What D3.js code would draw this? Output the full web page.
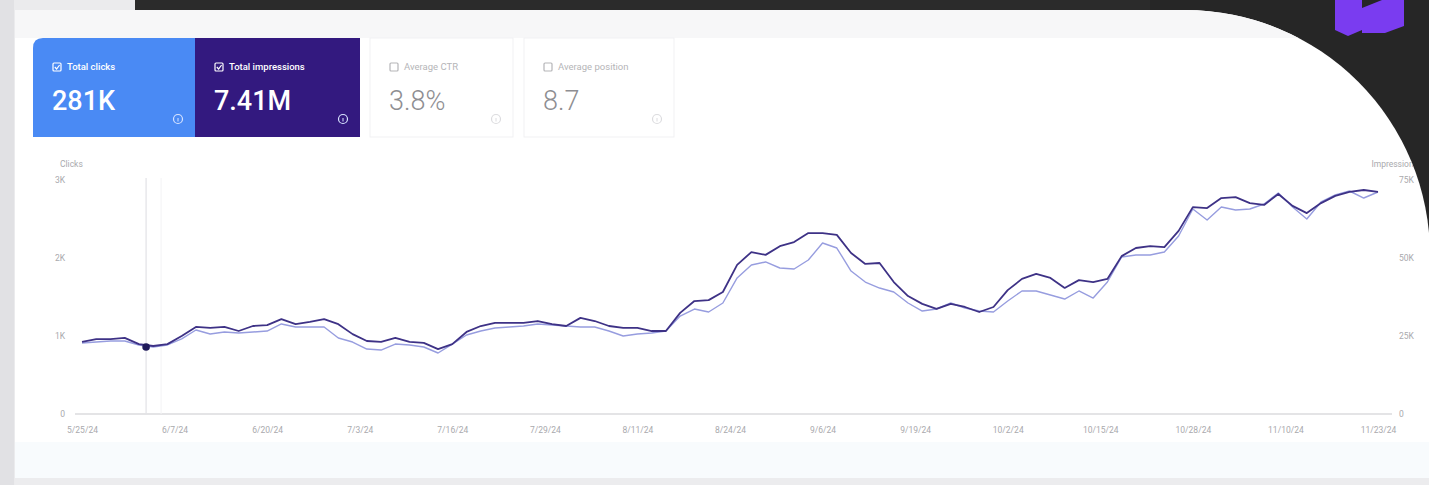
<!DOCTYPE html>
<html>
<head>
<meta charset="utf-8">
<script src="https://cdn.jsdelivr.net/npm/d3@7"></script>
<style>
  body { margin: 0; background: #ebebed; }
  svg { display: block; font-family: Roboto, "Open Sans", sans-serif; }
</style>
</head>
<body>
<div id="chart"></div>
<script>
// ---- data (one point every 2 days from 5/25/24) ----
const startDate = "2024-05-25";
const clicks = [910, 923, 936, 936, 885, 859, 885, 962, 1077, 1026,
  1051, 1038, 1051, 1064, 1154, 1115, 1115, 1115, 974, 923,
  833, 820, 897, 885, 859, 782, 897, 1013, 1064, 1103,
  1115, 1128, 1154, 1141, 1128, 1115, 1115, 1064, 1000, 1026,
  1038, 1064, 1256, 1346, 1308, 1423, 1744, 1910, 1949, 1872,
  1859, 1974, 2192, 2128, 1833, 1692, 1615, 1564, 1423, 1320,
  1346, 1423, 1359, 1320, 1308, 1449, 1577, 1577, 1526, 1474,
  1577, 1487, 1692, 2013, 2038, 2038, 2077, 2282, 2628, 2487,
  2654, 2615, 2628, 2692, 2833, 2654, 2500, 2718, 2808, 2859,
  2769, 2846];
const impressions = [23100, 24000, 24000, 24400, 22400, 21800, 22400, 25000, 27900, 27600,
  27900, 26600, 28200, 28500, 30400, 28800, 29500, 30400, 28800, 25600,
  23400, 23100, 24400, 23100, 22800, 20800, 22400, 26300, 28200, 29200,
  29200, 29200, 29800, 28800, 28200, 30800, 29800, 28200, 27600, 27600,
  26600, 26600, 32400, 36200, 36500, 39100, 47800, 51900, 51000, 53800,
  55100, 58000, 58000, 57400, 51600, 48100, 48400, 42300, 37800, 35300,
  33700, 35300, 34300, 32700, 34300, 39700, 43300, 44900, 43600, 40400,
  42900, 42300, 43300, 50600, 53200, 53800, 53500, 58700, 66300, 66000,
  69200, 69500, 67600, 67000, 70500, 66700, 64400, 67600, 69900, 71200,
  71800, 71200];
const xTickDates = ["2024-05-25", "2024-06-07", "2024-06-20", "2024-07-03", "2024-07-16",
  "2024-07-29", "2024-08-11", "2024-08-24", "2024-09-06", "2024-09-19",
  "2024-10-02", "2024-10-15", "2024-10-28", "2024-11-10", "2024-11-23"];
const clickTicks = [0, 1000, 2000, 3000];
const clickTickLabels = ["0", "1K", "2K", "3K"];
const imprTicks = [0, 25000, 50000, 75000];
const imprTickLabels = ["0", "25K", "50K", "75K"];
const hoverDate = "2024-06-03";

const metrics = [
  { label: "Total clicks", value: "281K", on: true, fill: "#4a8af4" },
  { label: "Total impressions", value: "7.41M", on: true, fill: "#33197f" },
  { label: "Average CTR", value: "3.8%", on: false, fill: "#ffffff" },
  { label: "Average position", value: "8.7", on: false, fill: "#ffffff" }
];

// ---- layout ----
const W = 1429, H = 485;
const parse = d3.timeParse("%Y-%m-%d");
const t0 = parse(startDate);
const rows = clicks.map((c, i) => ({ date: d3.timeDay.offset(t0, i * 2), clicks: c, impr: impressions[i] }));

const svg = d3.select("#chart").append("svg").attr("width", W).attr("height", H);

svg.append("rect").attr("width", W).attr("height", H).attr("fill", "#ebebed");
svg.append("rect").attr("x", 0).attr("y", 0).attr("width", 14).attr("height", H).attr("fill", "#e1e1e4");
// dark header strip + top-right corner
svg.append("rect").attr("x", 135).attr("y", 0).attr("width", W - 135).attr("height", 10).attr("fill", "#2b2b2b");
svg.append("rect").attr("x", 1150).attr("y", 0).attr("width", W - 1150).attr("height", 300).attr("fill", "#262626");

const cardPath = "M15,10 H1185 A245,245 0 0 1 1430,255 V478 H15 Z";
svg.append("clipPath").attr("id", "card").append("path").attr("d", cardPath);
svg.append("path").attr("d", cardPath).attr("fill", "#ffffff");
const cardG = svg.append("g").attr("clip-path", "url(#card)");
cardG.append("rect").attr("x", 15).attr("y", 10).attr("width", W).attr("height", 28).attr("fill", "#f7f7f8");
cardG.append("rect").attr("x", 15).attr("y", 442).attr("width", W).attr("height", 36).attr("fill", "#f8fbfd");
svg.append("rect").attr("x", 15).attr("y", 478).attr("width", W).attr("height", 7).attr("fill", "#ececee");

// logo
svg.append("path").attr("d", "M1335,0 H1362 V30 L1348,36 L1335,30 Z").attr("fill", "#7a3cf0");
svg.append("path").attr("d", "M1362,8 L1382,0 H1404 V26 L1385,33 L1362,33 Z").attr("fill", "#7a3cf0");

// ---- metric tiles ----
const tileX = [33, 195, 370, 524];
const tileW = [162, 165, 143, 150];
metrics.forEach((m, i) => {
  const g = svg.append("g").attr("transform", `translate(${tileX[i]},38)`);
  if (i === 0) {
    g.append("path").attr("d", `M0,10 Q0,0 10,0 H${tileW[i]} V99 H0 Z`).attr("fill", m.fill);
  } else {
    g.append("rect").attr("width", tileW[i]).attr("height", 99).attr("fill", m.fill)
      .attr("stroke", m.on ? "none" : "#f1f1f3");
  }
  const fg = m.on ? "#ffffff" : "#b5b5b8";
  g.append("rect").attr("x", 20).attr("y", 25).attr("width", 8).attr("height", 8).attr("rx", 1)
    .attr("fill", "none").attr("stroke", fg).attr("stroke-width", 1.2);
  if (m.on) {
    g.append("path").attr("d", "M21.8,29 L23.6,31 L26.6,27").attr("fill", "none")
      .attr("stroke", fg).attr("stroke-width", 1.2);
  }
  g.append("text").attr("x", 34).attr("y", 32).attr("font-size", 9.5)
    .attr("font-weight", m.on ? 500 : 400).attr("fill", fg).text(m.label);
  g.append("text").attr("x", 19).attr("y", 72).attr("font-size", 27)
    .attr("font-weight", m.on ? 500 : 300).attr("fill", m.on ? "#ffffff" : "#8e8e92").text(m.value);
  const ic = g.append("g").attr("transform", `translate(${tileW[i] - 17},81)`);
  ic.append("circle").attr("r", 4.5).attr("fill", "none").attr("stroke", m.on ? "#d8e4ff" : "#dcdcdf").attr("stroke-width", 1.2);
  ic.append("line").attr("x1", 0).attr("x2", 0).attr("y1", -1).attr("y2", 2.5).attr("stroke", m.on ? "#d8e4ff" : "#dcdcdf");
});

// ---- chart ----
const x = d3.scaleTime().domain([t0, parse("2024-11-23")]).range([82, 1378]);
const yC = d3.scaleLinear().domain([0, 3000]).range([414, 180]);
const yI = d3.scaleLinear().domain([0, 75000]).range([414, 180]);

const chart = svg.append("g").attr("clip-path", "url(#card)");

// baseline
chart.append("line").attr("x1", 75).attr("x2", 1392).attr("y1", yC(0)).attr("y2", yC(0))
  .attr("stroke", "#e4e4e6").attr("stroke-width", 2);

// axes
const axL = d3.axisLeft(yC).tickValues(clickTicks).tickSize(0)
  .tickFormat((d, i) => clickTickLabels[i]);
chart.append("g").attr("transform", "translate(68,0)").call(axL)
  .call(g => g.select(".domain").remove())
  .call(g => g.selectAll("text").attr("fill", "#a9a9ad").attr("font-size", 8.5).attr("font-family", "Roboto"));

const axR = d3.axisRight(yI).tickValues(imprTicks).tickSize(0)
  .tickFormat((d, i) => imprTickLabels[i]);
chart.append("g").attr("transform", "translate(1396,0)").call(axR)
  .call(g => g.select(".domain").remove())
  .call(g => g.selectAll("text").attr("fill", "#a9a9ad").attr("font-size", 8.5).attr("font-family", "Roboto"));

const fmt = d3.timeFormat("%-m/%-d/%y");
const axB = d3.axisBottom(x).tickValues(xTickDates.map(parse)).tickSize(0).tickFormat(fmt);
chart.append("g").attr("transform", "translate(0,424)").call(axB)
  .call(g => g.select(".domain").remove())
  .call(g => g.selectAll("text").attr("fill", "#a9a9ad").attr("font-size", 8.5).attr("font-family", "Roboto"));

chart.append("text").attr("x", 60).attr("y", 167).attr("font-size", 8.5).attr("fill", "#a9a9ad").text("Clicks");
chart.append("text").attr("x", 1418).attr("y", 167).attr("text-anchor", "end").attr("font-size", 8.5)
  .attr("fill", "#a9a9ad").text("Impressions");

// hover marker
const hx = x(parse(hoverDate));
chart.append("line").attr("x1", hx).attr("x2", hx).attr("y1", 178).attr("y2", 414)
  .attr("stroke", "#e2e2e6").attr("stroke-width", 1.2);
chart.append("line").attr("x1", hx + 15).attr("x2", hx + 15).attr("y1", 178).attr("y2", 414)
  .attr("stroke", "#f3f3f5").attr("stroke-width", 1);

const lineC = d3.line().x(d => x(d.date)).y(d => yC(d.clicks));
const lineI = d3.line().x(d => x(d.date)).y(d => yI(d.impr));

chart.append("path").datum(rows).attr("d", lineC).attr("fill", "none")
  .attr("stroke", "#979ddf").attr("stroke-width", 1.4).attr("stroke-linejoin", "round");
chart.append("path").datum(rows).attr("d", lineI).attr("fill", "none")
  .attr("stroke", "#3e3286").attr("stroke-width", 1.8).attr("stroke-linejoin", "round");

const hoverRow = rows.find(r => +r.date >= +parse(hoverDate)) || rows[0];
chart.append("circle").attr("cx", hx).attr("cy", yI(hoverRow.impr) + 1).attr("r", 3.8).attr("fill", "#1f1a5a");
</script>
</body>
</html>
